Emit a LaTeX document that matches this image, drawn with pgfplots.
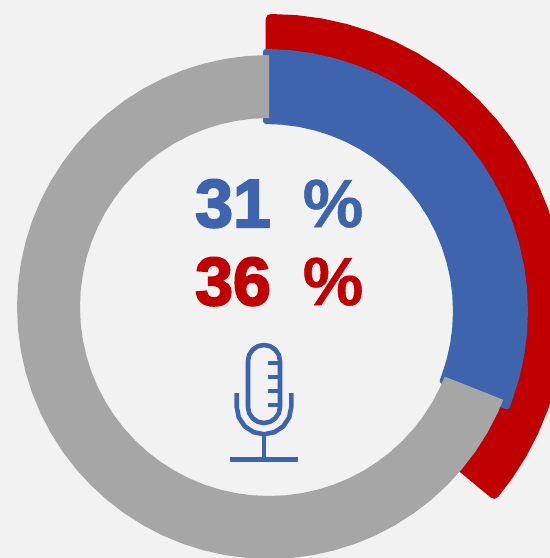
\documentclass[border=0pt]{standalone}
\usepackage{pgfplots}
\usepackage{pgfplotstable}
\pgfplotsset{compat=1.18}
\usepackage{fontspec}
\newfontfamily\blk[FakeBold=3]{Liberation Sans Bold}
\newfontfamily\pct[FakeBold=0.8]{Liberation Sans Bold}
\definecolor{cblue}{HTML}{3D64AD}
\definecolor{cred}{HTML}{C00000}
\definecolor{cgray}{HTML}{A6A6A6}
\definecolor{cbg}{HTML}{F2F2F2}
% angle clockwise from the top, radius
\pgfplotstableread[row sep=\\]{a r\\
0 290\\5 290\\10 290\\15 290\\20 290\\25 290\\30 290\\35 290\\40 290\\45 290\\50 290\\55 290\\60 290\\65 290\\70 290\\75 290\\80 290\\85 290\\90 290\\95 290\\100 290\\105 290\\110 290\\115 290\\120 290\\125 290\\129.6 290\\
129.6 240\\100 240\\70 240\\40 240\\20 240\\0 240\\}\tred
\pgfplotstableread[row sep=\\]{a r\\
0 259\\5 259\\10 259\\15 259\\20 259\\25 259\\30 259\\35 259\\40 259\\45 259\\50 259\\55 259\\60 259\\65 259\\70 259\\75 259\\80 259\\85 259\\90 259\\95 259\\100 259\\105 259\\110 259\\111.6 259\\
111.6 190\\110 190\\105 190\\100 190\\95 190\\90 190\\85 190\\80 190\\75 190\\70 190\\65 190\\60 190\\55 190\\50 190\\45 190\\40 190\\35 190\\30 190\\25 190\\20 190\\15 190\\10 190\\5 190\\0 190\\}\tblue
\pgfplotstableread[row sep=\\]{a r\\
111.6 252\\115 252\\120 252\\125 252\\130 252\\135 252\\140 252\\145 252\\150 252\\155 252\\160 252\\165 252\\170 252\\175 252\\180 252\\185 252\\190 252\\195 252\\200 252\\205 252\\210 252\\215 252\\220 252\\225 252\\230 252\\235 252\\240 252\\245 252\\250 252\\255 252\\260 252\\265 252\\270 252\\275 252\\280 252\\285 252\\290 252\\295 252\\300 252\\305 252\\310 252\\315 252\\320 252\\325 252\\330 252\\335 252\\340 252\\345 252\\350 252\\355 252\\360 252\\
360 189\\355 189\\350 189\\345 189\\340 189\\335 189\\330 189\\325 189\\320 189\\315 189\\310 189\\305 189\\300 189\\295 189\\290 189\\285 189\\280 189\\275 189\\270 189\\265 189\\260 189\\255 189\\250 189\\245 189\\240 189\\235 189\\230 189\\225 189\\220 189\\215 189\\210 189\\205 189\\200 189\\195 189\\190 189\\185 189\\180 189\\175 189\\170 189\\165 189\\160 189\\155 189\\150 189\\145 189\\140 189\\135 189\\130 189\\125 189\\120 189\\115 189\\111.6 189\\}\tgray
\begin{document}
\begin{tikzpicture}
\fill[cbg] (0,0) rectangle (550bp,558bp);
\begin{axis}[
  at={(0,0)}, anchor=south west,
  width=550bp, height=558bp, scale only axis,
  xmin=0, xmax=550, ymin=0, ymax=558, y dir=reverse,
  hide axis, clip=true,
]
\addplot[draw=cred, fill=cred, line width=10bp, line join=round, no markers]
  table[x expr={270.7+\thisrow{r}*sin(\thisrow{a})}, y expr={309-\thisrow{r}*cos(\thisrow{a})}] {\tred} -- cycle;
\addplot[draw=cblue, fill=cblue, line width=6bp, line join=round, no markers]
  table[x expr={266+\thisrow{r}*sin(\thisrow{a})}, y expr={311-\thisrow{r}*cos(\thisrow{a})}] {\tblue} -- cycle;
\addplot[draw=none, fill=cgray, no markers]
  table[x expr={269+\thisrow{r}*sin(\thisrow{a})}, y expr={307-\thisrow{r}*cos(\thisrow{a})}] {\tgray} -- cycle;
% microphone
\addplot[draw=cblue, line width=4.6bp, line join=round, no markers] coordinates {
 (248,361)(249.2,354.9)(252.7,349.7)(257.9,346.2)(264,345)(270.1,346.2)(275.3,349.7)(278.8,354.9)(280,361)
 (280,407)(278.8,413.1)(275.3,418.3)(270.1,421.8)(264,423)(257.9,421.8)(252.7,418.3)(249.2,413.1)(248,407)(248,361)} -- cycle;
\addplot[draw=cblue, line width=4.6bp, line join=round, no markers] coordinates {
 (236.7,393)(236.7,407)(238.8,417.4)(244.7,426.3)(253.6,432.2)(264,434.3)(274.4,432.2)(283.3,426.3)(289.2,417.4)(291.3,407)(291.3,393)};
\addplot[draw=cblue, line width=4.2bp, no markers] coordinates {(264,434)(264,459)};
\addplot[draw=cblue, line width=4.6bp, no markers] coordinates {(230,459.7)(298,459.7)};
\addplot[draw=cblue, line width=4bp, no markers] coordinates {(267.7,363.3)(280,363.3)};
\addplot[draw=cblue, line width=4bp, no markers] coordinates {(267.7,377.3)(280,377.3)};
\addplot[draw=cblue, line width=4bp, no markers] coordinates {(267.7,391)(280,391)};
\addplot[draw=cblue, line width=4bp, no markers] coordinates {(267.7,405)(280,405)};
\node[anchor=base west, inner sep=0pt, text=cblue, font=\fontsize{68bp}{68bp}\selectfont] at (axis cs:195,227) {{\blk 31}\hspace{32bp}{\pct\%}};
\node[anchor=base west, inner sep=0pt, text=cred, font=\fontsize{68bp}{68bp}\selectfont] at (axis cs:195,305) {{\blk 36}\hspace{32bp}{\pct\%}};
\end{axis}
\end{tikzpicture}
\end{document}
